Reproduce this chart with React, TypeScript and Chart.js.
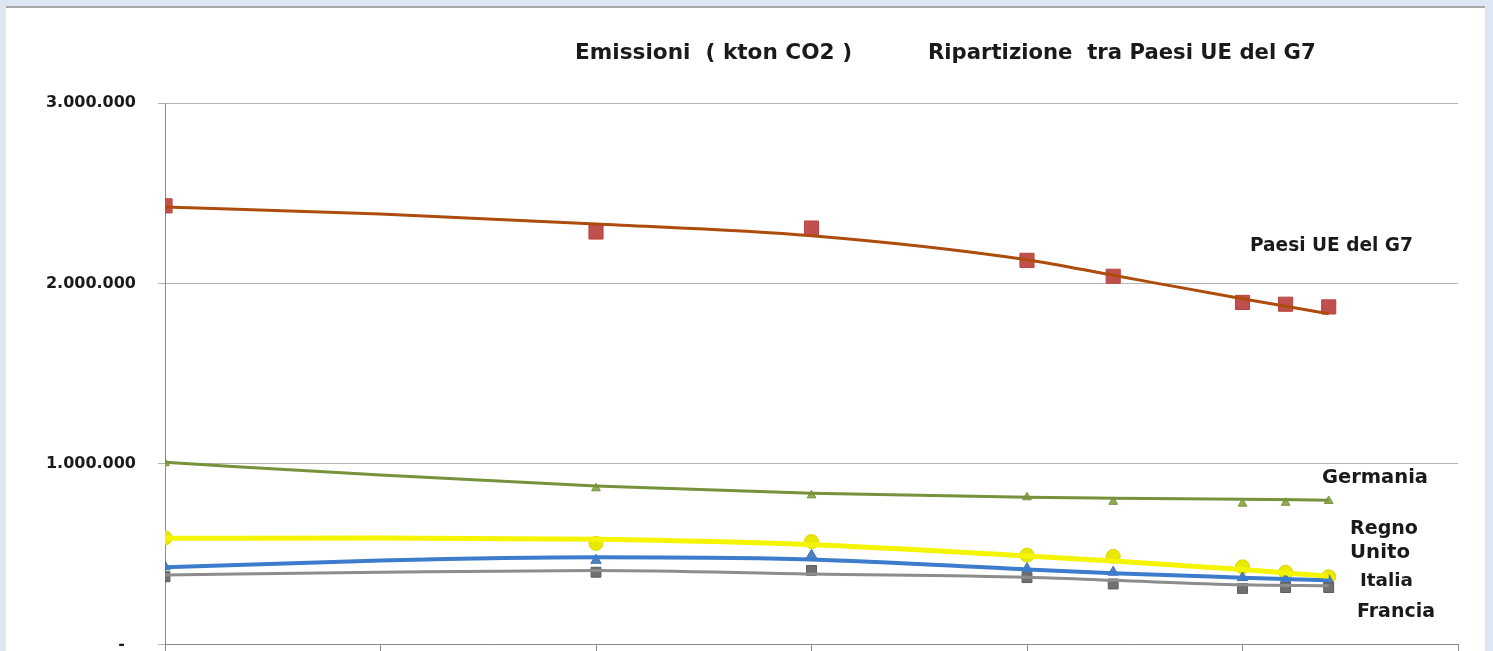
import React, { useEffect, useRef } from "react";
import { Chart, registerables } from "chart.js";

Chart.register(...registerables);

// ---- data (values in kton CO2) ----
const markerYears = [1990, 2000, 2005, 2010, 2012, 2015, 2016, 2017];
const trendYears = [1990, 1995, 2000, 2005, 2010, 2012, 2015, 2017];

const paesiUE = [2430000, 2285000, 2307000, 2128000, 2040000, 1895000, 1885000, 1870000];
const germania = [1004000, 865000, 826000, 815000, 790000, 780000, 785000, 795000];
const regnoUnito = [590000, 560000, 570000, 495000, 488000, 430000, 400000, 375000];
const italia = [430000, 466000, 494000, 420000, 400000, 370000, 360000, 355000];
const francia = [375000, 400000, 410000, 370000, 335000, 310000, 315000, 315000];

const paesiUETrend = [2424000, 2385000, 2330000, 2265000, 2132000, 2045000, 1915000, 1832000];
const germaniaTrend = [1009000, 938000, 878000, 838000, 815000, 810000, 804000, 799000];
const regnoUnitoTrend = [588000, 590000, 582000, 552000, 490000, 462000, 415000, 378000];
const italiaTrend = [427000, 465000, 483000, 471000, 415000, 394000, 370000, 355000];
const franciaTrend = [385000, 400000, 410000, 390000, 372000, 355000, 330000, 325000];

const yTicks = [0, 1000000, 2000000, 3000000];

const titleParts = ["Emissioni  ( kton CO2 )", "Ripartizione  tra Paesi UE del G7"];
const seriesLabels = ["Paesi UE del G7", "Germania", "Regno", "Unito", "Italia", "Francia"];

const FONT = '"DejaVu Sans", Verdana, sans-serif';
const CANVAS_H = 676;

function pts(xs: number[], ys: number[]) {
  return xs.map((x, i) => ({ x, y: ys[i] }));
}

function fmt(v: number): string {
  if (v === 0) return "-  ";
  return Math.round(v).toString().replace(/\B(?=(\d{3})+(?!\d))/g, ".");
}

// text placement: [text, left x, center y, width]
const textLayout: [string, number, number, number][] = [
  [titleParts[0], 575, 53, 277],
  [titleParts[1], 928, 53, 388],
  [seriesLabels[0], 1250, 246, 163],
  [seriesLabels[1], 1322, 478, 106],
  [seriesLabels[2], 1350, 529, 68],
  [seriesLabels[3], 1350, 553, 60],
  [seriesLabels[4], 1360, 581, 53],
  [seriesLabels[5], 1357, 612, 78],
];

const textPlugin = {
  id: "textPlugin",
  afterDraw(chart: any) {
    const ctx = chart.ctx;
    ctx.save();
    ctx.fillStyle = "#1a1a1a";
    ctx.textAlign = "left";
    ctx.textBaseline = "middle";
    for (const [t, x, y, w] of textLayout) {
      ctx.font = `bold 16px ${FONT}`;
      const m = ctx.measureText(t).width;
      const s = (16 * w) / m;
      ctx.font = `bold ${s.toFixed(2)}px ${FONT}`;
      ctx.fillText(t, x, y);
    }
    ctx.restore();
  },
};

export default function App() {
  const ref = useRef<HTMLCanvasElement | null>(null);

  useEffect(() => {
    if (!ref.current) return;
    const markerDs = (label: string, data: number[], color: string, border: string, style: string, r: number, order: number) => ({
      type: "scatter" as const,
      label,
      data: pts(markerYears, data),
      showLine: false,
      pointStyle: style,
      pointRadius: r,
      pointBackgroundColor: color,
      pointBorderColor: border,
      pointBorderWidth: 1,
      order,
    });
    const trendDs = (label: string, data: number[], color: string, width: number, order: number) => ({
      type: "line" as const,
      label,
      data: pts(trendYears, data),
      showLine: true,
      borderColor: color,
      borderWidth: width,
      pointRadius: 0,
      cubicInterpolationMode: "monotone" as const,
      fill: false,
      order,
    });

    const chart = new Chart(ref.current, {
      type: "scatter",
      data: {
        datasets: [
          markerDs("Paesi UE del G7", paesiUE, "#c0504d", "#b84541", "rect", 10, 14),
          markerDs("Germania", germania, "#8fae4f", "#76923c", "triangle", 5, 13),
          markerDs("Regno Unito", regnoUnito, "#e8e800", "#d8d800", "circle", 7, 12),
          markerDs("Italia", italia, "#4f81bd", "#3f70b0", "triangle", 6, 11),
          markerDs("Francia", francia, "#707070", "#5e5e5e", "rect", 7, 10),
          trendDs("Paesi UE trend", paesiUETrend, "#ad4c0c", 3, 4),
          trendDs("Germania trend", germaniaTrend, "#76923c", 3, 3),
          trendDs("Francia trend", franciaTrend, "#8c8c8c", 3, 2),
          trendDs("Italia trend", italiaTrend, "#3d7ccc", 4, 1),
          trendDs("Regno Unito trend", regnoUnitoTrend, "#f5f500", 5, 0),
        ] as any,
      },
      options: {
        animation: false,
        responsive: false,
        maintainAspectRatio: false,
        layout: { padding: { left: 0, right: 35, top: 103, bottom: 0 } },
        plugins: {
          legend: { display: false },
          title: { display: false },
          tooltip: { enabled: false },
        },
        scales: {
          x: {
            type: "linear",
            min: 1990,
            max: 2020,
            ticks: { display: false, stepSize: 5 },
            grid: {
              display: true,
              drawOnChartArea: false,
              drawTicks: true,
              tickLength: 8,
              color: "#8a8a8a",
            },
            border: { display: true, color: "#8a8a8a", width: 1 },
            afterFit: (s: any) => {
              s.height = 7;
            },
          },
          y: {
            type: "linear",
            min: 0,
            max: 3000000,
            afterBuildTicks: (s: any) => {
              s.ticks = yTicks.map((v) => ({ value: v }));
            },
            ticks: {
              callback: (v: any) => fmt(Number(v)),
              color: "#1a1a1a",
              font: { family: FONT, size: 16, weight: "bold" },
              padding: 22,
            },
            grid: {
              color: "#b4b4b4",
              lineWidth: 1,
              tickLength: 7,
            },
            border: { display: true, color: "#8a8a8a", width: 1 },
            afterFit: (s: any) => {
              s.width = 165;
            },
          },
        },
      },
      plugins: [textPlugin],
    });
    return () => chart.destroy();
  }, []);

  return (
    <div
      style={{
        position: "fixed",
        left: 0,
        top: 0,
        width: 1493,
        height: 651,
        background: "#dde7f3",
        overflow: "hidden",
      }}
    >
      <div
        style={{
          position: "absolute",
          left: 6,
          top: 6,
          width: 1479,
          height: 645,
          background: "#ffffff",
          borderTop: "2px solid #a8a8a8",
          boxSizing: "border-box",
        }}
      />
      <canvas
        ref={ref}
        width={1493}
        height={CANVAS_H}
        style={{ position: "absolute", left: 0, top: 0, width: 1493, height: CANVAS_H }}
      />
    </div>
  );
}
